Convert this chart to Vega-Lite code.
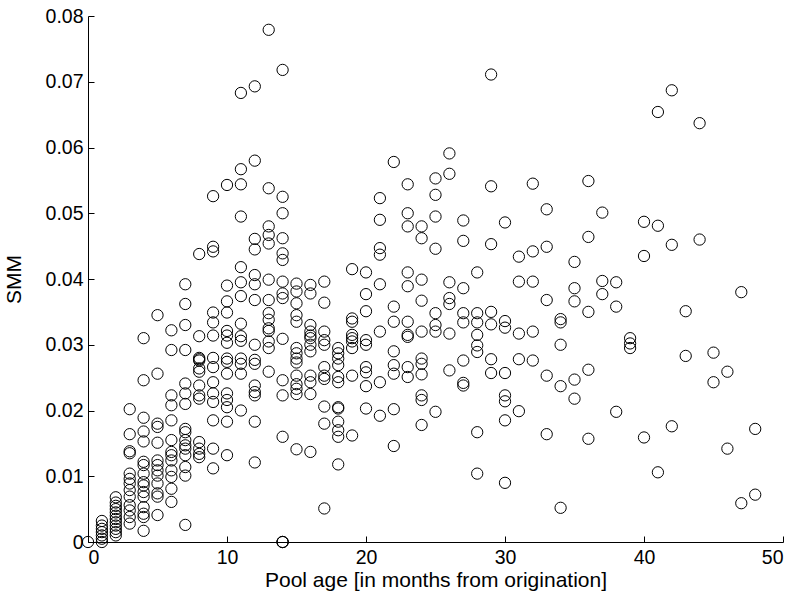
{
  "$schema": "https://vega.github.io/schema/vega-lite/v6.json",
  "autosize": {"type": "none"},
  "width": 695,
  "height": 526,
  "padding": {"left": 88, "top": 16, "right": 12, "bottom": 56},
  "background": "white",
  "config": {
    "view": {"stroke": null},
    "font": "Liberation Sans",
    "axis": {
      "domainColor": "black",
      "domainWidth": 1,
      "tickColor": "black",
      "tickWidth": 1,
      "tickSize": -6,
      "grid": false,
      "labelFont": "Liberation Sans",
      "labelFontSize": 19.5,
      "labelColor": "black",
      "titleFont": "Liberation Sans",
      "titleFontSize": 21,
      "titleFontWeight": "normal",
      "titleColor": "black"
    }
  },
  "data": {
    "values": [
      {"age": 0, "smm": 0},
      {"age": 1, "smm": 0}, {"age": 1, "smm": 0.0005}, {"age": 1, "smm": 0.001}, {"age": 1, "smm": 0.0015}, {"age": 1, "smm": 0.002}, {"age": 1, "smm": 0.0025}, {"age": 1, "smm": 0.0032},
      {"age": 2, "smm": 0.001}, {"age": 2, "smm": 0.0015}, {"age": 2, "smm": 0.002}, {"age": 2, "smm": 0.0025}, {"age": 2, "smm": 0.003}, {"age": 2, "smm": 0.0035}, {"age": 2, "smm": 0.004}, {"age": 2, "smm": 0.0045}, {"age": 2, "smm": 0.005}, {"age": 2, "smm": 0.0055}, {"age": 2, "smm": 0.006}, {"age": 2, "smm": 0.0068},
      {"age": 3, "smm": 0.0202}, {"age": 3, "smm": 0.0164}, {"age": 3, "smm": 0.0138}, {"age": 3, "smm": 0.0135}, {"age": 3, "smm": 0.0104}, {"age": 3, "smm": 0.0096}, {"age": 3, "smm": 0.0089}, {"age": 3, "smm": 0.0079}, {"age": 3, "smm": 0.0069}, {"age": 3, "smm": 0.0056}, {"age": 3, "smm": 0.0048}, {"age": 3, "smm": 0.0038}, {"age": 3, "smm": 0.0028},
      {"age": 4, "smm": 0.031}, {"age": 4, "smm": 0.0246}, {"age": 4, "smm": 0.0189}, {"age": 4, "smm": 0.0168}, {"age": 4, "smm": 0.0153}, {"age": 4, "smm": 0.0122}, {"age": 4, "smm": 0.0117}, {"age": 4, "smm": 0.0104}, {"age": 4, "smm": 0.0091}, {"age": 4, "smm": 0.0086}, {"age": 4, "smm": 0.0076}, {"age": 4, "smm": 0.0069}, {"age": 4, "smm": 0.0053}, {"age": 4, "smm": 0.0043}, {"age": 4, "smm": 0.0038}, {"age": 4, "smm": 0.0017},
      {"age": 5, "smm": 0.0345}, {"age": 5, "smm": 0.0256}, {"age": 5, "smm": 0.018}, {"age": 5, "smm": 0.0175}, {"age": 5, "smm": 0.0151}, {"age": 5, "smm": 0.0124}, {"age": 5, "smm": 0.0117}, {"age": 5, "smm": 0.0109}, {"age": 5, "smm": 0.0101}, {"age": 5, "smm": 0.0089}, {"age": 5, "smm": 0.0074}, {"age": 5, "smm": 0.0069}, {"age": 5, "smm": 0.0041},
      {"age": 6, "smm": 0.0322}, {"age": 6, "smm": 0.0292}, {"age": 6, "smm": 0.0223}, {"age": 6, "smm": 0.0208}, {"age": 6, "smm": 0.0185}, {"age": 6, "smm": 0.0155}, {"age": 6, "smm": 0.0137}, {"age": 6, "smm": 0.0132}, {"age": 6, "smm": 0.0124}, {"age": 6, "smm": 0.0109}, {"age": 6, "smm": 0.0099}, {"age": 6, "smm": 0.0081}, {"age": 6, "smm": 0.0061},
      {"age": 7, "smm": 0.0392}, {"age": 7, "smm": 0.0362}, {"age": 7, "smm": 0.033}, {"age": 7, "smm": 0.0292}, {"age": 7, "smm": 0.0241}, {"age": 7, "smm": 0.0226}, {"age": 7, "smm": 0.021}, {"age": 7, "smm": 0.0172}, {"age": 7, "smm": 0.0167}, {"age": 7, "smm": 0.0155}, {"age": 7, "smm": 0.0147}, {"age": 7, "smm": 0.0142}, {"age": 7, "smm": 0.0132}, {"age": 7, "smm": 0.0114}, {"age": 7, "smm": 0.0101}, {"age": 7, "smm": 0.0026},
      {"age": 8, "smm": 0.0438}, {"age": 8, "smm": 0.0313}, {"age": 8, "smm": 0.028}, {"age": 8, "smm": 0.0278}, {"age": 8, "smm": 0.0276}, {"age": 8, "smm": 0.0264}, {"age": 8, "smm": 0.0259}, {"age": 8, "smm": 0.0238}, {"age": 8, "smm": 0.0223}, {"age": 8, "smm": 0.0218}, {"age": 8, "smm": 0.0152}, {"age": 8, "smm": 0.0142}, {"age": 8, "smm": 0.0134}, {"age": 8, "smm": 0.0129},
      {"age": 9, "smm": 0.0526}, {"age": 9, "smm": 0.0449}, {"age": 9, "smm": 0.0442}, {"age": 9, "smm": 0.0349}, {"age": 9, "smm": 0.0334}, {"age": 9, "smm": 0.0314}, {"age": 9, "smm": 0.028}, {"age": 9, "smm": 0.0266}, {"age": 9, "smm": 0.0243}, {"age": 9, "smm": 0.0226}, {"age": 9, "smm": 0.0213}, {"age": 9, "smm": 0.0185}, {"age": 9, "smm": 0.0142}, {"age": 9, "smm": 0.0112},
      {"age": 10, "smm": 0.0543}, {"age": 10, "smm": 0.039}, {"age": 10, "smm": 0.0366}, {"age": 10, "smm": 0.0349}, {"age": 10, "smm": 0.0321}, {"age": 10, "smm": 0.0314}, {"age": 10, "smm": 0.0303}, {"age": 10, "smm": 0.0279}, {"age": 10, "smm": 0.0274}, {"age": 10, "smm": 0.0256}, {"age": 10, "smm": 0.0226}, {"age": 10, "smm": 0.0216}, {"age": 10, "smm": 0.0205}, {"age": 10, "smm": 0.0183}, {"age": 10, "smm": 0.0132},
      {"age": 11, "smm": 0.0683}, {"age": 11, "smm": 0.0567}, {"age": 11, "smm": 0.0544}, {"age": 11, "smm": 0.0495}, {"age": 11, "smm": 0.0418}, {"age": 11, "smm": 0.0395}, {"age": 11, "smm": 0.0374}, {"age": 11, "smm": 0.0332}, {"age": 11, "smm": 0.0313}, {"age": 11, "smm": 0.0306}, {"age": 11, "smm": 0.0279}, {"age": 11, "smm": 0.0271}, {"age": 11, "smm": 0.0256}, {"age": 11, "smm": 0.02},
      {"age": 12, "smm": 0.0693}, {"age": 12, "smm": 0.058}, {"age": 12, "smm": 0.0461}, {"age": 12, "smm": 0.0445}, {"age": 12, "smm": 0.0406}, {"age": 12, "smm": 0.0392}, {"age": 12, "smm": 0.0368}, {"age": 12, "smm": 0.03}, {"age": 12, "smm": 0.0277}, {"age": 12, "smm": 0.0271}, {"age": 12, "smm": 0.0238}, {"age": 12, "smm": 0.0228}, {"age": 12, "smm": 0.0223}, {"age": 12, "smm": 0.0183}, {"age": 12, "smm": 0.0121},
      {"age": 13, "smm": 0.0779}, {"age": 13, "smm": 0.0538}, {"age": 13, "smm": 0.048}, {"age": 13, "smm": 0.0467}, {"age": 13, "smm": 0.0454}, {"age": 13, "smm": 0.0399}, {"age": 13, "smm": 0.0368}, {"age": 13, "smm": 0.0348}, {"age": 13, "smm": 0.0338}, {"age": 13, "smm": 0.0325}, {"age": 13, "smm": 0.0321}, {"age": 13, "smm": 0.0305}, {"age": 13, "smm": 0.0295}, {"age": 13, "smm": 0.0259},
      {"age": 14, "smm": 0.0718}, {"age": 14, "smm": 0.0525}, {"age": 14, "smm": 0.05}, {"age": 14, "smm": 0.0462}, {"age": 14, "smm": 0.0439}, {"age": 14, "smm": 0.0429}, {"age": 14, "smm": 0.0396}, {"age": 14, "smm": 0.0378}, {"age": 14, "smm": 0.0371}, {"age": 14, "smm": 0.0309}, {"age": 14, "smm": 0.0246}, {"age": 14, "smm": 0.0223}, {"age": 14, "smm": 0.016}, {"age": 14, "smm": 0}, {"age": 14, "smm": 0}, {"age": 14, "smm": 0},
      {"age": 15, "smm": 0.0393}, {"age": 15, "smm": 0.0381}, {"age": 15, "smm": 0.0363}, {"age": 15, "smm": 0.0345}, {"age": 15, "smm": 0.0335}, {"age": 15, "smm": 0.0295}, {"age": 15, "smm": 0.0287}, {"age": 15, "smm": 0.0279}, {"age": 15, "smm": 0.0273}, {"age": 15, "smm": 0.0253}, {"age": 15, "smm": 0.024}, {"age": 15, "smm": 0.0233}, {"age": 15, "smm": 0.0225}, {"age": 15, "smm": 0.0141},
      {"age": 16, "smm": 0.0391}, {"age": 16, "smm": 0.0378}, {"age": 16, "smm": 0.033}, {"age": 16, "smm": 0.032}, {"age": 16, "smm": 0.0314}, {"age": 16, "smm": 0.031}, {"age": 16, "smm": 0.03}, {"age": 16, "smm": 0.029}, {"age": 16, "smm": 0.0253}, {"age": 16, "smm": 0.0243}, {"age": 16, "smm": 0.0225}, {"age": 16, "smm": 0.0137},
      {"age": 17, "smm": 0.0396}, {"age": 17, "smm": 0.0364}, {"age": 17, "smm": 0.032}, {"age": 17, "smm": 0.0307}, {"age": 17, "smm": 0.03}, {"age": 17, "smm": 0.0266}, {"age": 17, "smm": 0.0253}, {"age": 17, "smm": 0.0248}, {"age": 17, "smm": 0.0206}, {"age": 17, "smm": 0.018}, {"age": 17, "smm": 0.0051},
      {"age": 18, "smm": 0.0295}, {"age": 18, "smm": 0.0287}, {"age": 18, "smm": 0.0279}, {"age": 18, "smm": 0.0269}, {"age": 18, "smm": 0.0251}, {"age": 18, "smm": 0.0243}, {"age": 18, "smm": 0.0205}, {"age": 18, "smm": 0.0203}, {"age": 18, "smm": 0.0183}, {"age": 18, "smm": 0.017}, {"age": 18, "smm": 0.016}, {"age": 18, "smm": 0.0118},
      {"age": 19, "smm": 0.0415}, {"age": 19, "smm": 0.034}, {"age": 19, "smm": 0.0335}, {"age": 19, "smm": 0.0315}, {"age": 19, "smm": 0.031}, {"age": 19, "smm": 0.0305}, {"age": 19, "smm": 0.0295}, {"age": 19, "smm": 0.0253}, {"age": 19, "smm": 0.0162},
      {"age": 20, "smm": 0.041}, {"age": 20, "smm": 0.0377}, {"age": 20, "smm": 0.0351}, {"age": 20, "smm": 0.0307}, {"age": 20, "smm": 0.03}, {"age": 20, "smm": 0.0266}, {"age": 20, "smm": 0.0258}, {"age": 20, "smm": 0.0237}, {"age": 20, "smm": 0.0203},
      {"age": 21, "smm": 0.0523}, {"age": 21, "smm": 0.049}, {"age": 21, "smm": 0.0447}, {"age": 21, "smm": 0.0437}, {"age": 21, "smm": 0.0392}, {"age": 21, "smm": 0.032}, {"age": 21, "smm": 0.0243}, {"age": 21, "smm": 0.0192},
      {"age": 22, "smm": 0.0578}, {"age": 22, "smm": 0.0358}, {"age": 22, "smm": 0.0335}, {"age": 22, "smm": 0.029}, {"age": 22, "smm": 0.0269}, {"age": 22, "smm": 0.0256}, {"age": 22, "smm": 0.0202}, {"age": 22, "smm": 0.0146},
      {"age": 23, "smm": 0.0544}, {"age": 23, "smm": 0.05}, {"age": 23, "smm": 0.048}, {"age": 23, "smm": 0.041}, {"age": 23, "smm": 0.0389}, {"age": 23, "smm": 0.0335}, {"age": 23, "smm": 0.0315}, {"age": 23, "smm": 0.0312}, {"age": 23, "smm": 0.0266}, {"age": 23, "smm": 0.0251},
      {"age": 24, "smm": 0.048}, {"age": 24, "smm": 0.0462}, {"age": 24, "smm": 0.0399}, {"age": 24, "smm": 0.0367}, {"age": 24, "smm": 0.032}, {"age": 24, "smm": 0.0279}, {"age": 24, "smm": 0.0271}, {"age": 24, "smm": 0.0255}, {"age": 24, "smm": 0.0223}, {"age": 24, "smm": 0.0216}, {"age": 24, "smm": 0.0178},
      {"age": 25, "smm": 0.0553}, {"age": 25, "smm": 0.0528}, {"age": 25, "smm": 0.0495}, {"age": 25, "smm": 0.0446}, {"age": 25, "smm": 0.0348}, {"age": 25, "smm": 0.033}, {"age": 25, "smm": 0.032}, {"age": 25, "smm": 0.0198},
      {"age": 26, "smm": 0.0591}, {"age": 26, "smm": 0.056}, {"age": 26, "smm": 0.0395}, {"age": 26, "smm": 0.0371}, {"age": 26, "smm": 0.0362}, {"age": 26, "smm": 0.0317}, {"age": 26, "smm": 0.0261},
      {"age": 27, "smm": 0.0489}, {"age": 27, "smm": 0.0458}, {"age": 27, "smm": 0.0386}, {"age": 27, "smm": 0.0348}, {"age": 27, "smm": 0.0334}, {"age": 27, "smm": 0.0276}, {"age": 27, "smm": 0.0242}, {"age": 27, "smm": 0.0238},
      {"age": 28, "smm": 0.041}, {"age": 28, "smm": 0.0348}, {"age": 28, "smm": 0.0334}, {"age": 28, "smm": 0.0315}, {"age": 28, "smm": 0.0299}, {"age": 28, "smm": 0.0289}, {"age": 28, "smm": 0.0167}, {"age": 28, "smm": 0.0104},
      {"age": 29, "smm": 0.0711}, {"age": 29, "smm": 0.0541}, {"age": 29, "smm": 0.0453}, {"age": 29, "smm": 0.035}, {"age": 29, "smm": 0.0331}, {"age": 29, "smm": 0.0278}, {"age": 29, "smm": 0.0257},
      {"age": 30, "smm": 0.0486}, {"age": 30, "smm": 0.0336}, {"age": 30, "smm": 0.0326}, {"age": 30, "smm": 0.0257}, {"age": 30, "smm": 0.0223}, {"age": 30, "smm": 0.0214}, {"age": 30, "smm": 0.0185}, {"age": 30, "smm": 0.009},
      {"age": 31, "smm": 0.0434}, {"age": 31, "smm": 0.0396}, {"age": 31, "smm": 0.0317}, {"age": 31, "smm": 0.0278}, {"age": 31, "smm": 0.0199},
      {"age": 32, "smm": 0.0545}, {"age": 32, "smm": 0.0442}, {"age": 32, "smm": 0.0396}, {"age": 32, "smm": 0.032}, {"age": 32, "smm": 0.0276},
      {"age": 33, "smm": 0.0506}, {"age": 33, "smm": 0.0449}, {"age": 33, "smm": 0.0368}, {"age": 33, "smm": 0.0253}, {"age": 33, "smm": 0.0164},
      {"age": 34, "smm": 0.0339}, {"age": 34, "smm": 0.0334}, {"age": 34, "smm": 0.03}, {"age": 34, "smm": 0.0237}, {"age": 34, "smm": 0.0052},
      {"age": 35, "smm": 0.0426}, {"age": 35, "smm": 0.0386}, {"age": 35, "smm": 0.0366}, {"age": 35, "smm": 0.0247}, {"age": 35, "smm": 0.0218},
      {"age": 36, "smm": 0.0549}, {"age": 36, "smm": 0.0464}, {"age": 36, "smm": 0.035}, {"age": 36, "smm": 0.0262}, {"age": 36, "smm": 0.0157},
      {"age": 37, "smm": 0.0501}, {"age": 37, "smm": 0.0397}, {"age": 37, "smm": 0.0377},
      {"age": 38, "smm": 0.0395}, {"age": 38, "smm": 0.0358}, {"age": 38, "smm": 0.0198},
      {"age": 39, "smm": 0.031}, {"age": 39, "smm": 0.0302}, {"age": 39, "smm": 0.0295},
      {"age": 40, "smm": 0.0487}, {"age": 40, "smm": 0.0435}, {"age": 40, "smm": 0.0159},
      {"age": 41, "smm": 0.0654}, {"age": 41, "smm": 0.0481}, {"age": 41, "smm": 0.0106},
      {"age": 42, "smm": 0.0687}, {"age": 42, "smm": 0.0452}, {"age": 42, "smm": 0.0176},
      {"age": 43, "smm": 0.0351}, {"age": 43, "smm": 0.0283},
      {"age": 44, "smm": 0.0637}, {"age": 44, "smm": 0.046},
      {"age": 45, "smm": 0.0288}, {"age": 45, "smm": 0.0243},
      {"age": 46, "smm": 0.0259}, {"age": 46, "smm": 0.0142},
      {"age": 47, "smm": 0.038}, {"age": 47, "smm": 0.0059},
      {"age": 48, "smm": 0.0172}, {"age": 48, "smm": 0.0072}
    ]
  },
  "mark": {"type": "point", "shape": "circle", "filled": false, "color": "black", "opacity": 1, "strokeWidth": 1, "size": 127, "clip": false},
  "encoding": {
    "x": {
      "field": "age",
      "type": "quantitative",
      "scale": {"domain": [0, 50], "nice": false, "zero": false},
      "axis": {"values": [0, 10, 20, 30, 40, 50], "title": "Pool age [in months from origination]", "labelPadding": 12, "titleBaseline": "middle", "titleY": 38}
    },
    "y": {
      "field": "smm",
      "type": "quantitative",
      "scale": {"domain": [0, 0.08], "nice": false, "zero": false},
      "axis": {"values": [0, 0.01, 0.02, 0.03, 0.04, 0.05, 0.06, 0.07, 0.08], "format": ".2~f", "title": "SMM", "labelPadding": 11, "titleBaseline": "middle", "titleAlign": "center", "titleAngle": -90, "titleX": -74, "titleY": 263}
    }
  }
}
